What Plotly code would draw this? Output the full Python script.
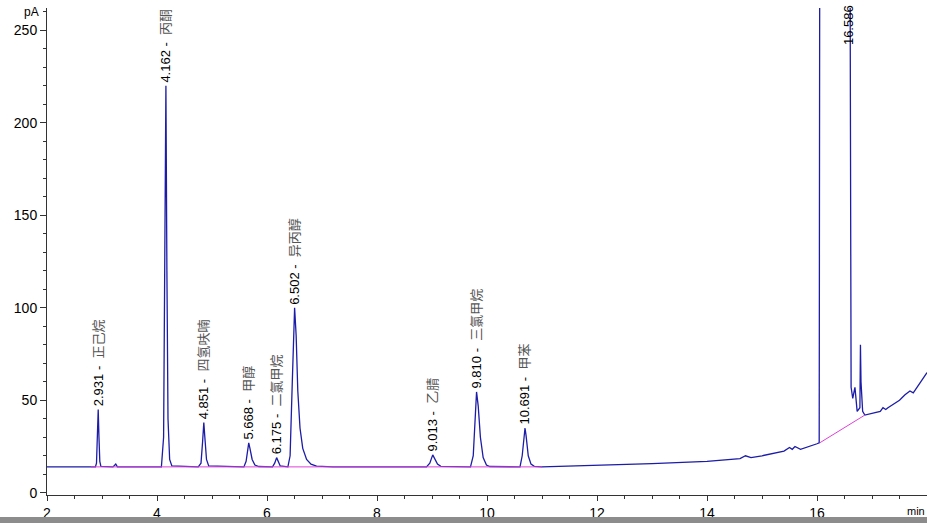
import plotly.graph_objects as go

# 色谱图数据 (保留时间 min, 信号 pA)
time_min = [
    2.00, 2.70, 2.88, 2.90, 2.915, 2.931, 2.945, 2.96, 2.98, 3.20, 3.25, 3.28,
    4.08, 4.12, 4.14, 4.162, 4.18, 4.20, 4.23, 4.27,
    4.75, 4.80, 4.83, 4.851, 4.87, 4.90, 4.94,
    5.58, 5.62, 5.65, 5.668, 5.69, 5.73, 5.78, 5.85,
    6.10, 6.14, 6.175, 6.20, 6.24,
    6.38, 6.42, 6.46, 6.502, 6.53, 6.56, 6.60, 6.65, 6.72, 6.80, 6.90, 7.20,
    8.90, 8.96, 9.013, 9.05, 9.10, 9.16,
    9.70, 9.75, 9.78, 9.810, 9.84, 9.88, 9.93, 9.99, 10.05,
    10.60, 10.64, 10.67, 10.691, 10.71, 10.75, 10.80, 10.86,
    11.00, 12.00, 13.00, 14.00, 14.60, 14.70, 14.80, 15.00, 15.40, 15.50,
    15.55, 15.60, 15.70, 16.00, 16.04, 16.05, 16.60, 16.62, 16.65, 16.69,
    16.73, 16.78, 16.79, 16.80, 16.83, 16.87, 17.00, 17.15, 17.20, 17.25,
    17.29, 17.40, 17.50, 17.60, 17.69, 17.75, 17.84, 17.90, 18.00,
]
signal_pa = [
    14.0, 14.0, 14.0, 16.0, 32.0, 45.0, 30.0, 17.0, 14.3, 14.0, 15.5, 14.0,
    14.0, 30.0, 120.0, 220.0, 120.0, 40.0, 18.0, 14.5,
    14.0, 16.0, 28.0, 38.0, 30.0, 18.0, 14.5,
    14.0, 17.0, 24.0, 27.0, 24.0, 18.0, 15.0, 14.2,
    14.0, 16.0, 19.0, 17.0, 14.5,
    14.0, 20.0, 60.0, 100.0, 85.0, 55.0, 35.0, 24.0, 18.0, 15.5, 14.4, 14.0,
    14.0, 16.0, 20.5, 18.5, 15.5, 14.3,
    14.0, 20.0, 40.0, 54.5, 47.0, 30.0, 19.0, 15.0, 14.2,
    14.0, 20.0, 31.0, 35.0, 31.0, 20.0, 15.5, 14.3,
    14.0, 14.8, 15.8, 17.0, 18.5, 20.0, 19.0, 20.0, 22.5, 24.5,
    23.5, 25.0, 23.5, 26.5, 27.0, 300.0, 300.0, 57.0, 51.0, 57.0,
    44.0, 46.0, 80.0, 60.0, 44.0, 42.0, 43.0, 44.0, 46.0, 45.0,
    46.0, 48.0, 50.0, 53.0, 55.0, 54.0, 58.0, 60.0, 65.0,
]

# 积分基线
base1_x = [2.80, 11.00]
base1_y = [14.0, 14.0]
base2_x = [16.05, 16.87]
base2_y = [27.0, 42.0]

# 峰标注
peak_rt = [2.931, 4.162, 4.851, 5.668, 6.175, 6.502, 9.013, 9.810, 10.691]
peak_h = [45, 220, 38, 27, 19, 100, 20.5, 54.5, 35]
peak_name = ["正己烷", "丙酮", "四氢呋喃", "甲醇", "二氯甲烷", "异丙醇", "乙腈", "三氯甲烷", "甲苯"]

fig = go.Figure()

fig.add_trace(go.Scatter(x=time_min, y=signal_pa, mode="lines",
                         line=dict(color="#1c1ca8", width=1.3), hoverinfo="skip"))
for bx, by in [(base1_x, base1_y), (base2_x, base2_y)]:
    fig.add_trace(go.Scatter(x=bx, y=by, mode="lines",
                             line=dict(color="#e040d8", width=1), hoverinfo="skip"))

for rt, h, name in zip(peak_rt, peak_h, peak_name):
    fig.add_annotation(x=rt, y=h, text=f"{rt:.3f} -  <span style='color:#555555'>{name}</span>",
                       textangle=-90, showarrow=False, xanchor="center", yanchor="bottom",
                       yshift=1, font=dict(size=13, color="black"))

# 超出量程的峰
fig.add_annotation(x=16.586, y=241, text="16.586", textangle=-90, showarrow=False,
                   xanchor="center", yanchor="bottom", font=dict(size=13, color="black"))

fig.add_annotation(x=0.0, y=1.0, xref="paper", yref="paper", text="pA", showarrow=False,
                   xanchor="right", yanchor="bottom", xshift=-6, yshift=-13,
                   font=dict(size=12, color="black"))
fig.add_annotation(x=1.0, y=0.0, xref="paper", yref="paper", text="min", showarrow=False,
                   xanchor="right", yanchor="top", yshift=-8, font=dict(size=11, color="black"))

# 截图底部的灰条
fig.add_shape(type="rect", xref="paper", yref="paper", x0=-0.06, x1=1.0, y0=-0.058, y1=-0.045,
              fillcolor="#8c8c8c", line=dict(width=0))

fig.update_layout(
    width=927, height=523,
    margin=dict(l=47, r=0, t=8, b=28),
    paper_bgcolor="white", plot_bgcolor="white",
    showlegend=False,
    font=dict(family="Liberation Sans, Arial, Noto Sans CJK SC", color="black"),
)
fig.update_xaxes(range=[2, 18], dtick=2, showgrid=False, zeroline=False,
                 showline=True, linecolor="#333333", linewidth=1,
                 ticks="outside", ticklen=5, tickcolor="#333333", tickfont=dict(size=14),
                 minor=dict(dtick=0.5, ticks="outside", ticklen=3, tickcolor="#333333"))
fig.update_yaxes(range=[-1.2, 262], dtick=50, showgrid=False, zeroline=False,
                 showline=True, linecolor="#333333", linewidth=1,
                 ticks="outside", ticklen=6, tickcolor="#333333", tickfont=dict(size=14),
                 minor=dict(dtick=10, ticks="outside", ticklen=3, tickcolor="#333333"))

# 去掉页面默认边距, 让图从窗口左上角开始
fig.write_html("out.html", config={"displayModeBar": False},
               post_script="document.body.style.margin='0';document.body.style.overflow='hidden';")
